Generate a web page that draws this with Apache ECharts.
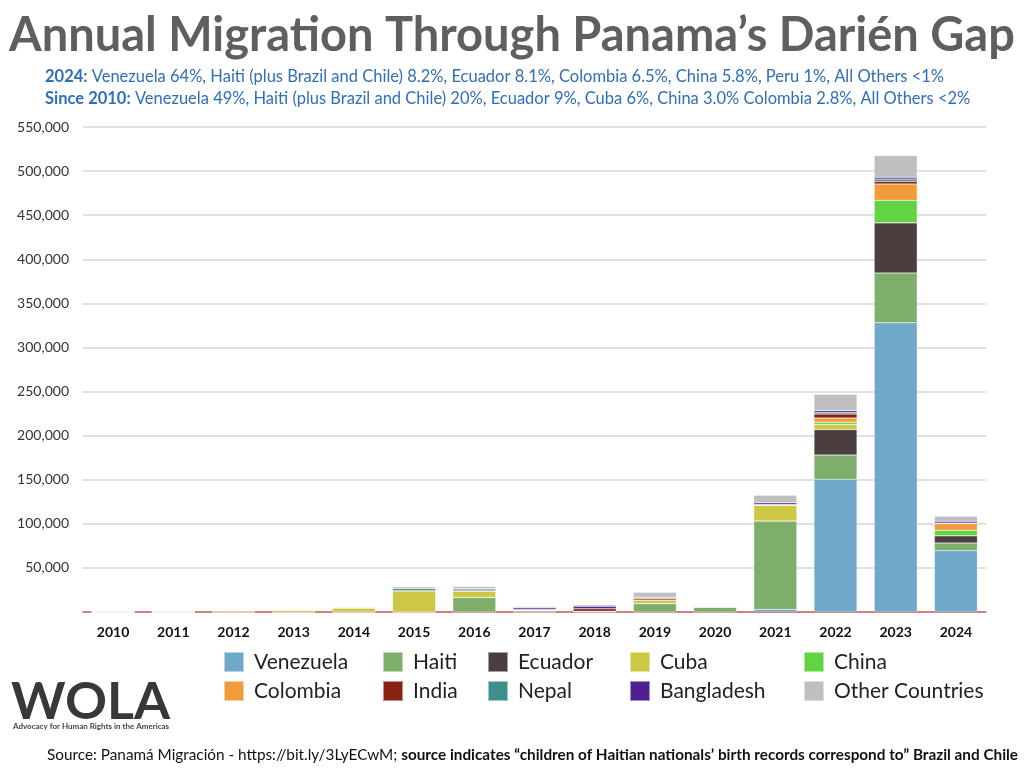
<!DOCTYPE html>
<html>
<head>
<meta charset="utf-8">
<script src="https://cdn.jsdelivr.net/npm/echarts@6/dist/echarts.min.js"></script>
<style>html,body{margin:0;padding:0;background:#fff;}#c{width:1024px;height:768px;}</style>
</head>
<body>
<div id="c"></div>
<script>
const years = ['2010','2011','2012','2013','2014','2015','2016','2017','2018','2019','2020','2021','2022','2023','2024'];
const venezuela  = [0,0,0,0,0,0,0,0,0,0,0,2800,150300,328000,69500];
const haiti      = [0,0,0,0,0,0,16600,500,800,9500,5800,100500,27600,56500,8800];
const ecuador    = [0,0,0,0,0,0,0,800,0,0,0,0,29000,56800,8200];
const cuba       = [0,0,1700,2400,4600,24000,7200,800,0,4200,0,17800,5700,0,0];
const china      = [0,0,0,0,0,0,0,0,0,0,0,0,2600,25600,6200];
const colombia   = [0,0,0,0,0,0,0,0,0,0,0,0,4900,18500,7600];
const india      = [0,0,0,0,0,0,0,0,3000,1900,0,500,4500,3000,400];
const nepal      = [0,0,0,0,700,2600,1500,1100,0,300,0,300,1700,2600,300];
const bangladesh = [0,0,0,0,0,0,1100,1500,2600,800,0,1900,2000,2000,1900];
const others     = [560,280,0,0,300,1900,2600,1500,1900,5700,400,8500,18600,24600,5700];
const yTicks = [0,50000,100000,150000,200000,250000,300000,350000,400000,450000,500000,550000];

const seriesDefs = [
  ['Venezuela', venezuela, '#6fa8c8'],
  ['Haiti', haiti, '#7daf6b'],
  ['Ecuador', ecuador, '#4a3e3e'],
  ['Cuba', cuba, '#cdc843'],
  ['China', china, '#62d444'],
  ['Colombia', colombia, '#f09c3a'],
  ['India', india, '#8a2214'],
  ['Nepal', nepal, '#3d8f8c'],
  ['Bangladesh', bangladesh, '#4d2192'],
  ['Other Countries', others, '#bfbfbf']
];

const chart = echarts.init(document.getElementById('c'));
const FONT = 'Lato, "Open Sans", sans-serif';

const legendCols = [
  {left: 218, names: ['Venezuela','Colombia']},
  {left: 377, names: ['Haiti','India']},
  {left: 482, names: ['Ecuador','Nepal']},
  {left: 624, names: ['Cuba','Bangladesh']},
  {left: 798, names: ['China','Other Countries']}
];

chart.setOption({
  animation: false,
  backgroundColor: '#fff',
  textStyle: {fontFamily: FONT},
  title: {
    text: 'Annual Migration Through Panama\u2019s Dari\u00e9n Gap',
    left: 'center', top: 7,
    textStyle: {fontFamily: FONT, fontWeight: 'bold', fontSize: 47, color: '#5f5f5f'}
  },
  legend: legendCols.map(c => ({
    orient: 'vertical', left: c.left, top: 646,
    itemWidth: 20, itemHeight: 20, itemGap: 7,
    data: c.names,
    icon: 'rect',
    selectedMode: false,
    textStyle: {fontFamily: FONT, fontSize: 21, color: '#222', padding: [0,0,0,5], lineHeight: 22}
  })),
  grid: {left: 83, right: 38, top: 127, bottom: 156},
  xAxis: {
    type: 'category', data: years,
    axisLine: {lineStyle: {color: '#c9625a', width: 1.5}},
    axisTick: {show: false},
    axisLabel: {fontFamily: FONT, fontWeight: 'bold', fontSize: 14, color: '#111', margin: 13}
  },
  yAxis: {
    type: 'value', min: yTicks[0], max: yTicks[yTicks.length-1], interval: yTicks[1]-yTicks[0],
    axisLine: {show: false}, axisTick: {show: false},
    splitLine: {lineStyle: {color: '#d6d6d6', width: 1.5}},
    axisLabel: {
      fontFamily: FONT, fontSize: 14, color: '#333', margin: 14,
      formatter: v => v === 0 ? '' : v.toLocaleString('en-US')
    }
  },
  series: seriesDefs.map(([name, data, color]) => ({
    name, type: 'bar', stack: 'total', data, barWidth: 43,
    itemStyle: {color, borderColor: 'rgba(255,255,255,0.5)', borderWidth: 0.5},
    emphasis: {disabled: true}
  })),
  graphic: [
    {type: 'text', left: 45, top: 68, style: {
      text: '{b|2024:} Venezuela 64%, Haiti (plus Brazil and Chile) 8.2%, Ecuador 8.1%, Colombia 6.5%, China 5.8%, Peru 1%, All Others <1%',
      fill: '#2f6fb8', font: '16.5px ' + FONT,
      rich: {b: {fontWeight: 'bold', fill: '#2f6fb8', fontSize: 16.5, fontFamily: FONT}}
    }},
    {type: 'text', left: 45, top: 90, style: {
      text: '{b|Since 2010:} Venezuela 49%, Haiti (plus Brazil and Chile) 20%, Ecuador 9%, Cuba 6%, China 3.0% Colombia 2.8%, All Others <2%',
      fill: '#2f6fb8', font: '16.5px ' + FONT,
      rich: {b: {fontWeight: 'bold', fill: '#2f6fb8', fontSize: 16.5, fontFamily: FONT}}
    }},
    {type: 'text', left: 11, top: 676, style: {
      text: 'WOLA', fill: '#383838', font: 'bold 52px ' + FONT
    }},
    {type: 'text', left: 13, top: 722, style: {
      text: 'Advocacy for Human Rights in the Americas', fill: '#444', font: 'bold 8px ' + FONT
    }},
    {type: 'text', right: 6, top: 748, style: {
      text: 'Source: Panam\u00e1 Migraci\u00f3n - https://bit.ly/3LyECwM; {b|source indicates \u201cchildren of Haitian nationals\u2019 birth records correspond to\u201d Brazil and Chile}',
      fill: '#111', font: '15.3px ' + FONT,
      rich: {b: {fontWeight: 'bold', fill: '#111', fontSize: 15.3, fontFamily: FONT}}
    }}
  ]
});
</script>
</body>
</html>
